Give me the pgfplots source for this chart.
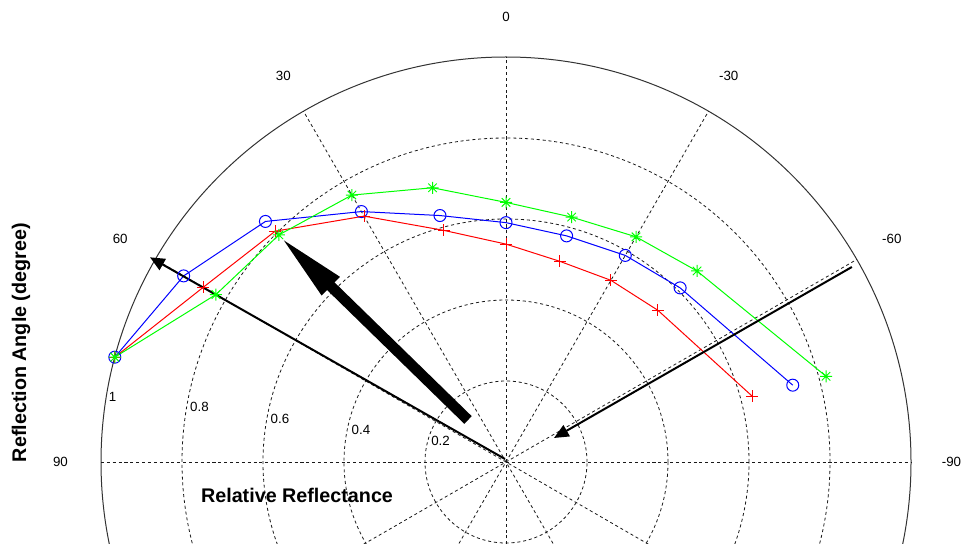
\documentclass[border=0pt]{standalone}
\usepackage{fontspec}
\setmainfont{Liberation Sans}
\usepackage{pgfplots}
\pgfplotsset{compat=1.18}
\usepackage{pgfplotstable}
\usetikzlibrary{arrows.meta}

\pgfdeclareplotmark{mstar}{%
  \pgfpathmoveto{\pgfpoint{-\pgfplotmarksize}{0pt}}\pgfpathlineto{\pgfpoint{\pgfplotmarksize}{0pt}}%
  \pgfpathmoveto{\pgfpoint{0pt}{-\pgfplotmarksize}}\pgfpathlineto{\pgfpoint{0pt}{\pgfplotmarksize}}%
  \pgfpathmoveto{\pgfpoint{-0.707\pgfplotmarksize}{-0.707\pgfplotmarksize}}\pgfpathlineto{\pgfpoint{0.707\pgfplotmarksize}{0.707\pgfplotmarksize}}%
  \pgfpathmoveto{\pgfpoint{-0.707\pgfplotmarksize}{0.707\pgfplotmarksize}}\pgfpathlineto{\pgfpoint{0.707\pgfplotmarksize}{-0.707\pgfplotmarksize}}%
  \pgfusepathqstroke}

% angle t (degree, from vertical, counterclockwise positive), relative reflectance r
\pgfplotstableread{
t r
75 1.000
60 0.919
45 0.840
30 0.714
15 0.630
0 0.591
-15 0.578
-30 0.589
-45 0.608
-75 0.733
}\bluedata
\pgfplotstableread{
t r
75 1.000
60 0.863
45 0.806
30 0.701
15 0.592
0 0.538
-15 0.513
-30 0.518
-45 0.530
-75 0.629
}\reddata
\pgfplotstableread{
t r
75 1.000
60 0.827
45 0.793
30 0.761
15 0.701
0 0.641
-15 0.626
-30 0.642
-45 0.667
-75 0.818
}\greendata

\tikzset{mgrid/.style={black!90, line width=0.6pt, dash pattern=on 2.3pt off 2.1pt}}

\begin{document}
\begin{tikzpicture}
\begin{axis}[
  x=303.75pt, y=303.75pt,
  xmin=-1.24938, xmax=1.12840, ymin=-0.2, ymax=1.14074,
  axis lines=none, clip=true,
  every node/.append style={font=\fontsize{12.3}{14}\selectfont},
]
% grid circles
\draw[mgrid] (axis cs:0,0) circle[radius=0.2];
\draw[mgrid] (axis cs:0,0) circle[radius=0.4];
\draw[mgrid] (axis cs:0,0) circle[radius=0.6];
\draw[mgrid] (axis cs:0,0) circle[radius=0.8];
\draw[black!80, line width=0.75pt] (axis cs:0,0) circle[radius=1];
% spokes
\draw[mgrid] (axis cs:-1,0) -- (axis cs:1,0);
\draw[mgrid] (axis cs:-0.8660,-0.5) -- (axis cs:0.8660,0.5);
\draw[mgrid] (axis cs:-0.5,-0.8660) -- (axis cs:0.5,0.8660);
\draw[mgrid] (axis cs:0,-1) -- (axis cs:0,1);
\draw[mgrid] (axis cs:0.5,-0.8660) -- (axis cs:-0.5,0.8660);
\draw[mgrid] (axis cs:0.8660,-0.5) -- (axis cs:-0.8660,0.5);

% angle labels
\node at (axis cs:0,1.1) {0};
\node at (axis cs:-0.55,0.9526) {30};
\node at (axis cs:0.55,0.9526) {-30};
\node at (axis cs:-0.9526,0.55) {60};
\node at (axis cs:0.9526,0.55) {-60};
\node at (axis cs:-1.1,0) {90};
\node at (axis cs:1.1,0) {-90};
% ring labels
\node at (axis cs:-0.9716,0.1605) {1};
\node at (axis cs:-0.7568,0.1358) {0.8};
\node at (axis cs:-0.5580,0.1074) {0.6};
\node at (axis cs:-0.3580,0.0790) {0.4};
\node at (axis cs:-0.1617,0.0519) {0.2};

% data
\addplot[blue, line width=0.75pt, mark=o, mark size=4.5pt] table[x expr={-\thisrow{r}*sin(\thisrow{t})}, y expr={\thisrow{r}*cos(\thisrow{t})}] {\bluedata};
\addplot[red, line width=0.75pt, mark=+, mark size=4.5pt] table[x expr={-\thisrow{r}*sin(\thisrow{t})}, y expr={\thisrow{r}*cos(\thisrow{t})}] {\reddata};
\addplot[green, line width=0.75pt, mark=mstar, mark size=4.5pt] table[x expr={-\thisrow{r}*sin(\thisrow{t})}, y expr={\thisrow{r}*cos(\thisrow{t})}] {\greendata};

% arrows
\draw[black, line width=1.5pt, -{Triangle[length=11pt,width=9.5pt]}] (axis cs:-0.0025,0.0074) -- (axis cs:-0.879,0.5054);
\draw[black, line width=1.5pt, -{Triangle[length=11pt,width=9.5pt]}] (axis cs:0.854,0.4815) -- (axis cs:0.1185,0.0593);
\draw[black, line width=8pt, -{Triangle[length=55pt,width=17pt]}] (axis cs:-0.0938,0.1037) -- (axis cs:-0.5622,0.5605);

% labels
\node[font=\bfseries\fontsize{14.8}{17}\selectfont] at (axis cs:-0.516,-0.0827) {Relative Reflectance};
\node[font=\bfseries\fontsize{14.8}{17}\selectfont, rotate=90] at (axis cs:-1.1975,0.2946) {Reflection Angle (degree)};
\end{axis}
\pgfresetboundingbox
\useasboundingbox (current axis.south west) rectangle (current axis.north east);
\end{tikzpicture}
\end{document}
